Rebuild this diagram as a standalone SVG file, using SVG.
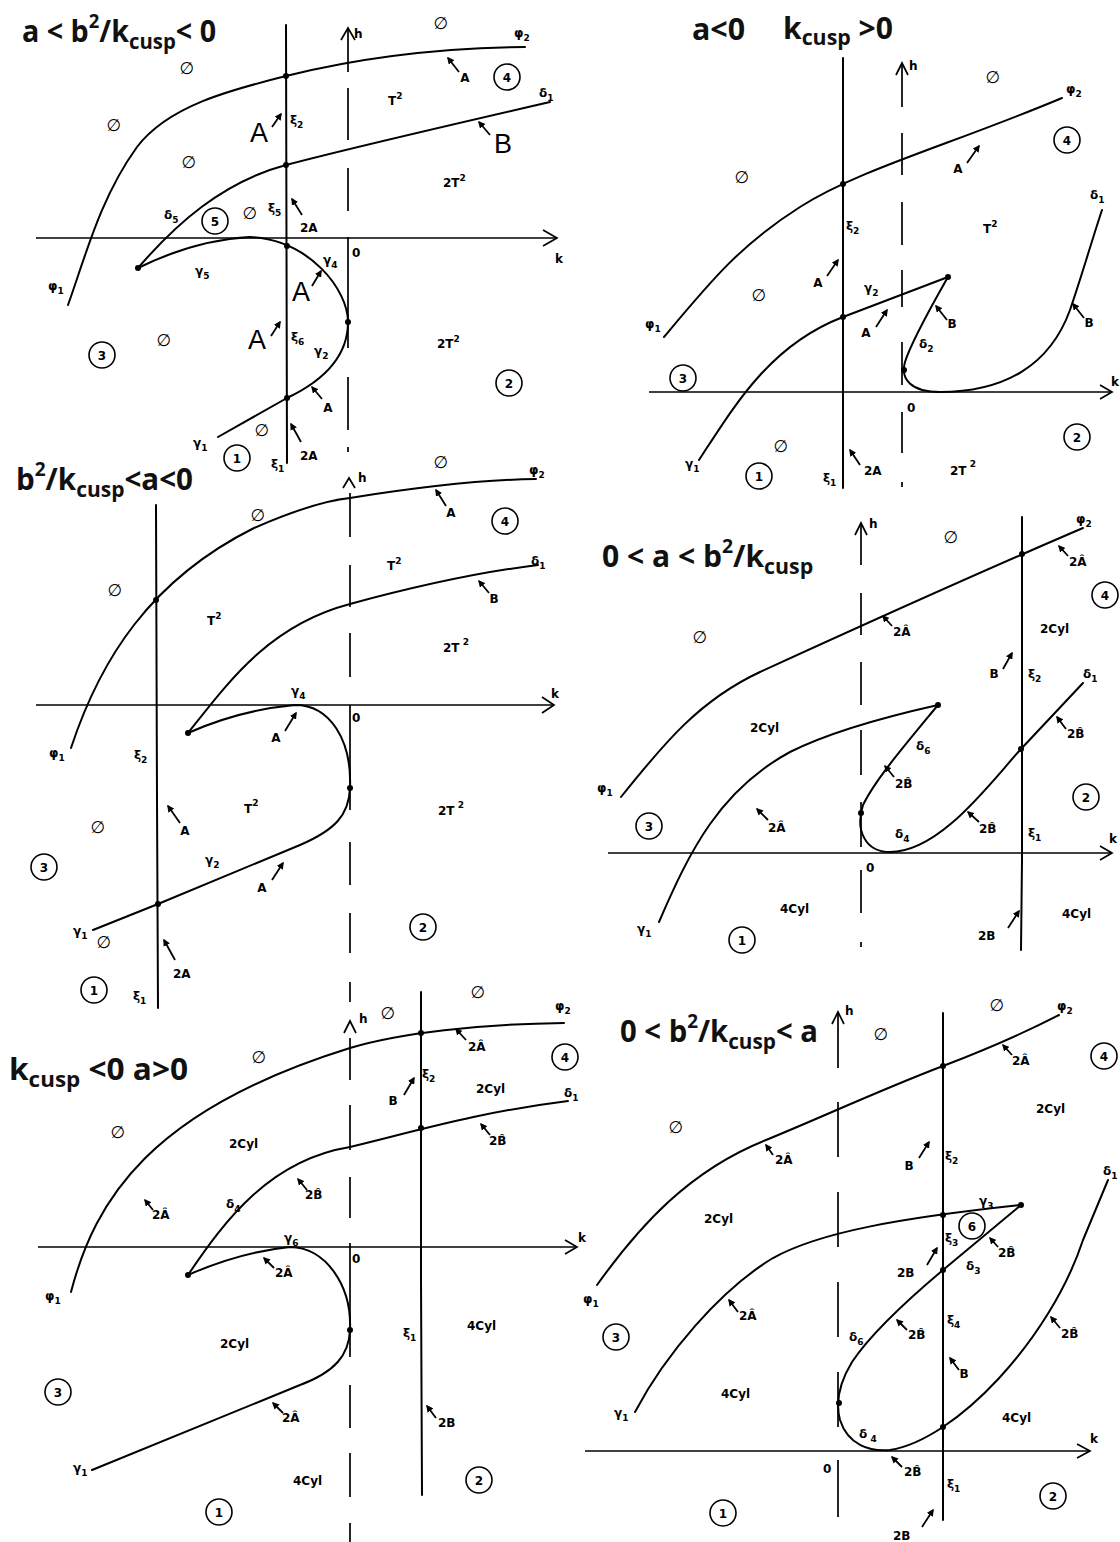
<svg xmlns="http://www.w3.org/2000/svg" width="1120" height="1542" viewBox="0 0 1120 1542">
<defs>
<marker id="ah" viewBox="0 0 10 10" refX="8" refY="5" markerWidth="4" markerHeight="4" orient="auto"><path d="M0,0 L10,5 L0,10 z" fill="#000"/></marker>
<style>
.c{fill:none;stroke:#000;stroke-width:2;stroke-linecap:round;stroke-linejoin:round}
.ax{fill:none;stroke:#000;stroke-width:1.7}
.pa{stroke:#000;stroke-width:1.8;marker-end:url(#ah)}
.l{font-family:"DejaVu Sans",sans-serif;font-weight:bold;font-size:12px;fill:#000}
.m{text-anchor:middle}
.s{font-size:9px}
.e{font-family:"DejaVu Sans",sans-serif;font-size:17px;fill:#000;text-anchor:middle}
.n{fill:none;stroke:#000;stroke-width:1.6}
.nt{font-family:"DejaVu Sans",sans-serif;font-weight:bold;font-size:12px;text-anchor:middle}
.big{font-family:"Liberation Sans",sans-serif;font-size:27px;text-anchor:middle}
.ttl{font-family:"Open Sans",sans-serif;font-weight:bold;font-size:31px;fill:#111}
.d{fill:#000}
</style>
</defs>
<rect width="1120" height="1542" fill="#fff"/>

<!-- ================= PANEL 1 ================= -->
<g id="panel1">
<text class="ttl" transform="translate(22,42) scale(0.925,1)">a &lt; b<tspan font-size="20" dy="-14">2</tspan><tspan dy="14">/k</tspan><tspan font-size="22" dy="7">cusp</tspan><tspan dy="-7">&lt; 0</tspan></text>
<g id="p1-connectors">
<line class="ax" x1="36" y1="238" x2="556" y2="238"/>
<polyline class="ax" points="543,230 557,238 543,246"/>
<path class="ax" d="M348,28V72M348,88V140M348,168V211M348,237V348M348,377V430M348,447V452"/>
<polyline class="ax" points="341,40 348,28 355,40"/>
<line class="c" x1="286" y1="25" x2="287" y2="463"/>
<path class="c" d="M68,305 C85,258 100,198 137,147 C168,106 230,90 286,76 C350,60 430,48 525,47"/>
<path class="c" d="M138,268 C175,225 222,182 286,165 C350,148 450,125 550,102"/>
<path class="c" d="M138,268 Q195,240 250,237 C310,240 348,290 348,322 C348,355 325,380 287,398 L218,437"/>
<circle class="d" cx="286" cy="76" r="3"/><circle class="d" cx="286" cy="165" r="3"/><circle class="d" cx="138" cy="268" r="3"/>
<circle class="d" cx="287" cy="246" r="3"/><circle class="d" cx="348" cy="322" r="3"/><circle class="d" cx="287" cy="398" r="3"/>
<line class="pa" x1="459" y1="72" x2="448" y2="58"/>
<line class="pa" x1="272" y1="127" x2="281" y2="114"/>
<line class="pa" x1="490" y1="135" x2="479" y2="122"/>
<line class="pa" x1="302" y1="215" x2="292" y2="199"/>
<line class="pa" x1="312" y1="286" x2="321" y2="271"/>
<line class="pa" x1="271" y1="336" x2="280" y2="322"/>
<line class="pa" x1="322" y1="399" x2="312" y2="387"/>
<line class="pa" x1="301" y1="442" x2="291" y2="424"/>
</g>
<g id="p1-labels">
<text class="l" x="354" y="38">h</text>
<text class="e" x="441" y="29">∅</text><text class="e" x="187" y="74">∅</text><text class="e" x="114" y="131">∅</text>
<text class="e" x="189" y="168">∅</text><text class="e" x="250" y="219">∅</text><text class="e" x="164" y="346">∅</text><text class="e" x="262" y="436">∅</text>
<text class="l" x="514" y="37">φ<tspan class="s" dy="4">2</tspan></text>
<text class="l m" x="465" y="82">A</text>
<circle class="n" cx="507" cy="77" r="13"/><text class="nt" x="507" y="81.5">4</text>
<text class="l" x="539" y="97">δ<tspan class="s" dy="4">1</tspan></text>
<text class="l" x="388" y="105">T<tspan class="s" dy="-6">2</tspan></text>
<text class="big" x="259" y="142">A</text>
<text class="l" x="290" y="124">ξ<tspan class="s" dy="4">2</tspan></text>
<text class="big" x="503" y="153">B</text>
<text class="l" x="443" y="187">2T<tspan class="s" dy="-6">2</tspan></text>
<text class="l" x="164" y="219">δ<tspan class="s" dy="4">5</tspan></text>
<circle class="n" cx="215" cy="221" r="13"/><text class="nt" x="215" y="225.5">5</text>
<text class="l" x="268" y="212">ξ<tspan class="s" dy="4">5</tspan></text>
<text class="l" x="300" y="232">2A</text>
<text class="l" x="195" y="275">γ<tspan class="s" dy="4">5</tspan></text>
<text class="l" x="48" y="290">φ<tspan class="s" dy="4">1</tspan></text>
<text class="l" x="352" y="257">0</text>
<text class="l" x="555" y="263">k</text>
<text class="l" x="323" y="264">γ<tspan class="s" dy="4">4</tspan></text>
<text class="big" x="301" y="301">A</text>
<text class="big" x="257" y="349">A</text>
<text class="l" x="291" y="341">ξ<tspan class="s" dy="4">6</tspan></text>
<text class="l" x="314" y="355">γ<tspan class="s" dy="4">2</tspan></text>
<text class="l" x="437" y="348">2T<tspan class="s" dy="-6">2</tspan></text>
<circle class="n" cx="102" cy="355" r="13"/><text class="nt" x="102" y="359.5">3</text>
<circle class="n" cx="509" cy="383" r="13"/><text class="nt" x="509" y="387.5">2</text>
<text class="l m" x="328" y="412">A</text>
<text class="l" x="193" y="447">γ<tspan class="s" dy="4">1</tspan></text>
<circle class="n" cx="237" cy="458" r="13"/><text class="nt" x="237" y="462.5">1</text>
<text class="l" x="271" y="468">ξ<tspan class="s" dy="4">1</tspan></text>
<text class="l" x="300" y="460">2A</text>
</g>
</g>

<!-- ================= PANEL 2 ================= -->
<g id="panel2">
<text class="ttl" transform="translate(692,40) scale(0.98,1)">a&lt;0</text>
<text class="ttl" transform="translate(783,39) scale(0.97,1)">k<tspan font-size="22" dy="6">cusp</tspan><tspan dy="-6"> &gt;0</tspan></text>
<g id="p2-connectors">
<line class="ax" x1="649" y1="392" x2="1111" y2="392"/>
<polyline class="ax" points="1100,385 1112,392 1100,399"/>
<path class="ax" d="M902,63V107M902,133V175M902,202V245M902,270V307M902,342V385M902,412V453M902,482V487"/>
<polyline class="ax" points="896,75 902,63 908,75"/>
<line class="c" x1="843" y1="58" x2="843" y2="488"/>
<path class="c" d="M664,337 C710,282 740,245 800,207 C860,169 950,145 1062,98"/>
<path class="c" d="M699,460 C735,405 770,345 843,317 L948,277"/>
<path class="c" d="M948,277 C935,300 912,340 905,362 C900,380 912,392 940,392 C1005,392 1050,365 1070,310 C1082,275 1092,240 1102,210"/>
<circle class="d" cx="843" cy="184" r="3"/><circle class="d" cx="843" cy="317" r="3"/><circle class="d" cx="948" cy="277" r="3"/><circle class="d" cx="904" cy="370" r="3"/>
<line class="pa" x1="967" y1="163" x2="979" y2="146"/>
<line class="pa" x1="827" y1="276" x2="838" y2="260"/>
<line class="pa" x1="876" y1="327" x2="887" y2="310"/>
<line class="pa" x1="947" y1="320" x2="936" y2="306"/>
<line class="pa" x1="1084" y1="318" x2="1073" y2="304"/>
<line class="pa" x1="860" y1="465" x2="850" y2="450"/>
</g>
<g id="p2-labels">
<text class="l" x="909" y="70">h</text>
<text class="e" x="993" y="83">∅</text>
<text class="l" x="1066" y="93">φ<tspan class="s" dy="4">2</tspan></text>
<circle class="n" cx="1067" cy="140" r="13"/><text class="nt" x="1067" y="144.5">4</text>
<text class="l m" x="958" y="173">A</text>
<text class="e" x="742" y="183">∅</text>
<text class="l" x="1090" y="199">δ<tspan class="s" dy="4">1</tspan></text>
<text class="l" x="846" y="230">ξ<tspan class="s" dy="4">2</tspan></text>
<text class="l" x="983" y="233">T<tspan class="s" dy="-6">2</tspan></text>
<text class="l m" x="818" y="287">A</text>
<text class="e" x="759" y="301">∅</text>
<text class="l" x="864" y="292">γ<tspan class="s" dy="4">2</tspan></text>
<text class="l" x="645" y="328">φ<tspan class="s" dy="4">1</tspan></text>
<text class="l m" x="866" y="337">A</text>
<text class="l m" x="952" y="328">B</text>
<text class="l" x="919" y="348">δ<tspan class="s" dy="4">2</tspan></text>
<text class="l m" x="1089" y="327">B</text>
<circle class="n" cx="683" cy="378" r="13"/><text class="nt" x="683" y="382.5">3</text>
<text class="l" x="1111" y="386">k</text>
<text class="l" x="907" y="412">0</text>
<circle class="n" cx="1077" cy="437" r="13"/><text class="nt" x="1077" y="441.5">2</text>
<text class="e" x="781" y="452">∅</text>
<text class="l" x="685" y="468">γ<tspan class="s" dy="4">1</tspan></text>
<circle class="n" cx="759" cy="476" r="13"/><text class="nt" x="759" y="480.5">1</text>
<text class="l" x="823" y="482">ξ<tspan class="s" dy="4">1</tspan></text>
<text class="l" x="864" y="475">2A</text>
<text class="l" x="950" y="475">2T<tspan class="s" dy="-8"> 2</tspan></text>
</g>
</g>

<!-- ================= PANEL 3 ================= -->
<g id="panel3">
<text class="ttl" transform="translate(16,490) scale(0.954,1)">b<tspan font-size="20" dy="-14">2</tspan><tspan dy="14">/k</tspan><tspan font-size="22" dy="7">cusp</tspan><tspan dy="-7">&lt;a&lt;0</tspan></text>
<g id="p3-connectors">
<line class="ax" x1="36" y1="705" x2="553" y2="705"/>
<polyline class="ax" points="542,697 554,705 542,713"/>
<path class="ax" d="M350,493V537M350,565V607M350,633V677M350,705V810M350,842V885M350,913V953M350,982V1002"/>
<polyline class="ax" points="343,488 349,478 355,488"/>
<path class="c" d="M156,505 L157,800 L158,1008"/>
<path class="c" d="M71,748 C100,660 150,580 254,528 C300,508 330,500 350,498 C400,490 470,480 536,479"/>
<path class="c" d="M188,733 C230,680 270,625 350,604 C420,585 480,572 538,565"/>
<path class="c" d="M188,733 Q240,710 295,705 C330,705 352,740 350,788 C349,815 335,830 300,845 L158,904 L93,930"/>
<circle class="d" cx="156" cy="600" r="3"/><circle class="d" cx="188" cy="733" r="3"/><circle class="d" cx="350" cy="788" r="3"/><circle class="d" cx="158" cy="904" r="3"/>
<line class="pa" x1="446" y1="506" x2="436" y2="490"/>
<line class="pa" x1="489" y1="593" x2="479" y2="581"/>
<line class="pa" x1="285" y1="731" x2="296" y2="713"/>
<line class="pa" x1="180" y1="823" x2="168" y2="806"/>
<line class="pa" x1="272" y1="880" x2="283" y2="863"/>
<line class="pa" x1="175" y1="960" x2="164" y2="940"/>
</g>
<g id="p3-labels">
<text class="l" x="358" y="482">h</text>
<text class="e" x="441" y="468">∅</text>
<text class="l" x="529" y="474">φ<tspan class="s" dy="4">2</tspan></text>
<text class="l m" x="451" y="517">A</text>
<circle class="n" cx="505" cy="521" r="13"/><text class="nt" x="505" y="525.5">4</text>
<text class="e" x="258" y="521">∅</text>
<text class="e" x="115" y="596">∅</text>
<text class="l" x="387" y="570">T<tspan class="s" dy="-6">2</tspan></text>
<text class="l" x="531" y="565">δ<tspan class="s" dy="4">1</tspan></text>
<text class="l m" x="494" y="603">B</text>
<text class="l" x="207" y="625">T<tspan class="s" dy="-6">2</tspan></text>
<text class="l" x="443" y="652">2T<tspan class="s" dy="-7"> 2</tspan></text>
<text class="l" x="291" y="695">γ<tspan class="s" dy="4">4</tspan></text>
<text class="l" x="352" y="722">0</text>
<text class="l" x="551" y="698">k</text>
<text class="l" x="49" y="757">φ<tspan class="s" dy="4">1</tspan></text>
<text class="l" x="134" y="759">ξ<tspan class="s" dy="4">2</tspan></text>
<text class="l m" x="276" y="742">A</text>
<text class="l" x="244" y="813">T<tspan class="s" dy="-7">2</tspan></text>
<text class="l" x="438" y="815">2T<tspan class="s" dy="-7"> 2</tspan></text>
<text class="l m" x="185" y="835">A</text>
<text class="e" x="98" y="833">∅</text>
<circle class="n" cx="44" cy="867" r="13"/><text class="nt" x="44" y="871.5">3</text>
<text class="l" x="205" y="864">γ<tspan class="s" dy="4">2</tspan></text>
<text class="l m" x="262" y="892">A</text>
<circle class="n" cx="423" cy="927" r="13"/><text class="nt" x="423" y="931.5">2</text>
<text class="l" x="73" y="935">γ<tspan class="s" dy="4">1</tspan></text>
<text class="e" x="104" y="948">∅</text>
<text class="l" x="173" y="978">2A</text>
<circle class="n" cx="94" cy="990" r="13"/><text class="nt" x="94" y="994.5">1</text>
<text class="l" x="133" y="1000">ξ<tspan class="s" dy="4">1</tspan></text>
</g>
</g>

<!-- ================= PANEL 4 ================= -->
<g id="panel4">
<text class="ttl" transform="translate(602,567) scale(0.97,1)">0 &lt; a &lt; b<tspan font-size="20" dy="-14">2</tspan><tspan dy="14">/k</tspan><tspan font-size="22" dy="7">cusp</tspan></text>
<g id="p4-connectors">
<line class="ax" x1="608" y1="853" x2="1111" y2="853"/>
<polyline class="ax" points="1100,846 1112,853 1100,860"/>
<path class="ax" d="M861,523V565M861,593V635M861,662V705M861,730V775M861,802V847M861,870V913M861,942V947"/>
<polyline class="ax" points="855,535 861,523 867,535"/>
<path class="c" d="M1022,517 L1022,860 L1021,950"/>
<path class="c" d="M621,797 C665,742 700,700 760,672 C830,640 950,585 1083,528"/>
<path class="c" d="M659,922 C690,850 720,790 790,752 C830,732 880,718 938,705"/>
<path class="c" d="M938,705 C905,745 875,780 863,805 C855,830 865,852 890,852 C940,852 990,783 1021,749 L1083,683"/>
<circle class="d" cx="1022" cy="554" r="3"/><circle class="d" cx="938" cy="705" r="3"/><circle class="d" cx="861" cy="813" r="3"/><circle class="d" cx="1021" cy="749" r="3"/>
<line class="pa" x1="1068" y1="556" x2="1059" y2="546"/>
<line class="pa" x1="892" y1="626" x2="883" y2="616"/>
<line class="pa" x1="1003" y1="669" x2="1012" y2="653"/>
<line class="pa" x1="1066" y1="729" x2="1057" y2="717"/>
<line class="pa" x1="894" y1="777" x2="885" y2="766"/>
<line class="pa" x1="768" y1="820" x2="757" y2="809"/>
<line class="pa" x1="979" y1="822" x2="968" y2="812"/>
<line class="pa" x1="1008" y1="928" x2="1019" y2="911"/>
</g>
<g id="p4-labels">
<text class="l" x="869" y="528">h</text>
<text class="e" x="951" y="543">∅</text>
<text class="l" x="1076" y="523">φ<tspan class="s" dy="4">2</tspan></text>
<text class="l" x="1069" y="566">2Â</text>
<circle class="n" cx="1105" cy="595" r="13"/><text class="nt" x="1105" y="599.5">4</text>
<text class="l" x="893" y="636">2Â</text>
<text class="e" x="700" y="643">∅</text>
<text class="l" x="1040" y="633">2Cyl</text>
<text class="l m" x="994" y="678">B</text>
<text class="l" x="1028" y="678">ξ<tspan class="s" dy="4">2</tspan></text>
<text class="l" x="1083" y="678">δ<tspan class="s" dy="4">1</tspan></text>
<text class="l" x="750" y="732">2Cyl</text>
<text class="l" x="916" y="750">δ<tspan class="s" dy="4">6</tspan></text>
<text class="l" x="1067" y="738">2B&#x302;</text>
<text class="l" x="597" y="792">φ<tspan class="s" dy="4">1</tspan></text>
<text class="l" x="895" y="788">2B&#x302;</text>
<circle class="n" cx="1086" cy="797" r="13"/><text class="nt" x="1086" y="801.5">2</text>
<circle class="n" cx="649" cy="826" r="13"/><text class="nt" x="649" y="830.5">3</text>
<text class="l" x="768" y="832">2Â</text>
<text class="l" x="895" y="838">δ<tspan class="s" dy="4">4</tspan></text>
<text class="l" x="979" y="833">2B&#x302;</text>
<text class="l" x="1028" y="837">ξ<tspan class="s" dy="4">1</tspan></text>
<text class="l" x="1109" y="843">k</text>
<text class="l" x="866" y="872">0</text>
<text class="l" x="780" y="913">4Cyl</text>
<text class="l" x="1062" y="918">4Cyl</text>
<text class="l" x="637" y="933">γ<tspan class="s" dy="4">1</tspan></text>
<text class="l" x="978" y="940">2B</text>
<circle class="n" cx="742" cy="940" r="13"/><text class="nt" x="742" y="944.5">1</text>
</g>
</g>

<!-- ================= PANEL 5 ================= -->
<g id="panel5">
<text class="ttl" transform="translate(9,1080) scale(1.02,1)">k<tspan font-size="22" dy="7">cusp</tspan><tspan dy="-7"> &lt;0 a&gt;0</tspan></text>
<g id="p5-connectors">
<line class="ax" x1="38" y1="1247" x2="576" y2="1247"/>
<polyline class="ax" points="565,1240 577,1247 565,1254"/>
<path class="ax" d="M350,1038V1080M350,1105V1150M350,1177V1218M350,1243V1357M350,1385V1428M350,1453V1497M350,1523V1542"/>
<polyline class="ax" points="344,1033 350,1021 356,1033"/>
<path class="c" d="M421,992 L421,1280 L422,1495"/>
<path class="c" d="M71,1292 C95,1200 150,1110 350,1048 C400,1033 480,1024 564,1023"/>
<path class="c" d="M188,1275 C225,1220 270,1160 350,1147 C420,1130 480,1112 568,1101"/>
<path class="c" d="M188,1275 Q240,1252 290,1247 C325,1247 352,1285 350,1330 C349,1355 335,1372 300,1385 L92,1470"/>
<circle class="d" cx="421" cy="1033" r="3"/><circle class="d" cx="421" cy="1128" r="3"/><circle class="d" cx="188" cy="1275" r="3"/><circle class="d" cx="350" cy="1330" r="3"/>
<line class="pa" x1="466" y1="1040" x2="456" y2="1029"/>
<line class="pa" x1="404" y1="1095" x2="414" y2="1078"/>
<line class="pa" x1="490" y1="1135" x2="481" y2="1124"/>
<line class="pa" x1="307" y1="1190" x2="298" y2="1179"/>
<line class="pa" x1="153" y1="1210" x2="145" y2="1200"/>
<line class="pa" x1="274" y1="1268" x2="264" y2="1258"/>
<line class="pa" x1="283" y1="1413" x2="273" y2="1403"/>
<line class="pa" x1="436" y1="1418" x2="427" y2="1406"/>
</g>
<g id="p5-labels">
<text class="e" x="478" y="998">∅</text>
<text class="e" x="388" y="1019">∅</text>
<text class="l" x="359" y="1023">h</text>
<text class="l" x="555" y="1010">φ<tspan class="s" dy="4">2</tspan></text>
<text class="l" x="468" y="1051">2Â</text>
<circle class="n" cx="565" cy="1057" r="13"/><text class="nt" x="565" y="1061.5">4</text>
<text class="e" x="259" y="1063">∅</text>
<text class="l" x="422" y="1078">ξ<tspan class="s" dy="4">2</tspan></text>
<text class="l m" x="393" y="1105">B</text>
<text class="l" x="476" y="1093">2Cyl</text>
<text class="l" x="564" y="1097">δ<tspan class="s" dy="4">1</tspan></text>
<text class="e" x="118" y="1138">∅</text>
<text class="l" x="229" y="1148">2Cyl</text>
<text class="l" x="489" y="1145">2B&#x302;</text>
<text class="l" x="305" y="1199">2B&#x302;</text>
<text class="l" x="152" y="1219">2Â</text>
<text class="l" x="226" y="1208">δ<tspan class="s" dy="4">4</tspan></text>
<text class="l" x="284" y="1242">γ<tspan class="s" dy="4">6</tspan></text>
<text class="l" x="578" y="1242">k</text>
<text class="l" x="352" y="1263">0</text>
<text class="l" x="275" y="1277">2Â</text>
<text class="l" x="45" y="1300">φ<tspan class="s" dy="4">1</tspan></text>
<text class="l" x="403" y="1337">ξ<tspan class="s" dy="4">1</tspan></text>
<text class="l" x="467" y="1330">4Cyl</text>
<text class="l" x="220" y="1348">2Cyl</text>
<circle class="n" cx="58" cy="1392" r="13"/><text class="nt" x="58" y="1396.5">3</text>
<text class="l" x="282" y="1422">2Â</text>
<text class="l" x="438" y="1427">2B</text>
<text class="l" x="73" y="1472">γ<tspan class="s" dy="4">1</tspan></text>
<text class="l" x="293" y="1485">4Cyl</text>
<circle class="n" cx="479" cy="1480" r="13"/><text class="nt" x="479" y="1484.5">2</text>
<circle class="n" cx="219" cy="1512" r="13"/><text class="nt" x="219" y="1516.5">1</text>
</g>
</g>

<!-- ================= PANEL 6 ================= -->
<g id="panel6">
<text class="ttl" transform="translate(620,1042) scale(0.944,1)">0 &lt; b<tspan font-size="20" dy="-14">2</tspan><tspan dy="14">/k</tspan><tspan font-size="22" dy="7">cusp</tspan><tspan dy="-7">&lt; a</tspan></text>
<g id="p6-connectors">
<line class="ax" x1="585" y1="1451" x2="1089" y2="1451"/>
<polyline class="ax" points="1077,1444 1090,1451 1077,1458"/>
<path class="ax" d="M838,1012V1068M838,1102V1157M838,1192V1247M838,1282V1337M838,1372V1427M838,1460V1517"/>
<polyline class="ax" points="832,1024 838,1012 844,1024"/>
<line class="c" x1="943" y1="1013" x2="943" y2="1520"/>
<path class="c" d="M597,1285 C640,1225 690,1170 766,1140 C820,1118 880,1090 943,1066 C990,1048 1030,1030 1059,1015"/>
<path class="c" d="M635,1412 C665,1355 720,1290 773,1258 C820,1232 900,1218 1021,1205"/>
<path class="c" d="M1021,1205 L943,1270 C905,1302 870,1335 852,1362 C838,1385 836,1405 840,1420 C848,1445 870,1452 890,1450 C955,1440 1050,1340 1083,1240 L1108,1180"/>
<circle class="d" cx="943" cy="1066" r="3"/><circle class="d" cx="943" cy="1215" r="3"/><circle class="d" cx="1021" cy="1205" r="3"/>
<circle class="d" cx="943" cy="1270" r="3"/><circle class="d" cx="839" cy="1403" r="3"/><circle class="d" cx="943" cy="1427" r="3"/>
<line class="pa" x1="1012" y1="1055" x2="1003" y2="1045"/>
<line class="pa" x1="773" y1="1155" x2="766" y2="1145"/>
<line class="pa" x1="919" y1="1158" x2="929" y2="1142"/>
<line class="pa" x1="998" y1="1247" x2="990" y2="1238"/>
<line class="pa" x1="927" y1="1265" x2="937" y2="1248"/>
<line class="pa" x1="738" y1="1312" x2="729" y2="1300"/>
<line class="pa" x1="907" y1="1330" x2="897" y2="1320"/>
<line class="pa" x1="1060" y1="1328" x2="1051" y2="1317"/>
<line class="pa" x1="959" y1="1370" x2="950" y2="1358"/>
<line class="pa" x1="902" y1="1467" x2="892" y2="1457"/>
<line class="pa" x1="922" y1="1527" x2="933" y2="1510"/>
</g>
<g id="p6-labels">
<text class="l" x="845" y="1015">h</text>
<text class="e" x="997" y="1011">∅</text>
<text class="l" x="1057" y="1010">φ<tspan class="s" dy="4">2</tspan></text>
<text class="e" x="881" y="1040">∅</text>
<text class="l" x="1012" y="1065">2Â</text>
<circle class="n" cx="1104" cy="1056" r="13"/><text class="nt" x="1104" y="1060.5">4</text>
<text class="e" x="676" y="1133">∅</text>
<text class="l" x="1036" y="1113">2Cyl</text>
<text class="l" x="775" y="1164">2Â</text>
<text class="l m" x="909" y="1170">B</text>
<text class="l" x="945" y="1160">ξ<tspan class="s" dy="4">2</tspan></text>
<text class="l" x="1103" y="1175">δ<tspan class="s" dy="4">1</tspan></text>
<text class="l" x="979" y="1205">γ<tspan class="s" dy="4">3</tspan></text>
<text class="l" x="704" y="1223">2Cyl</text>
<circle class="n" cx="972" cy="1226" r="13"/><text class="nt" x="972" y="1230.5">6</text>
<text class="l" x="945" y="1242">ξ<tspan class="s" dy="4">3</tspan></text>
<text class="l" x="998" y="1257">2B&#x302;</text>
<text class="l" x="897" y="1277">2B</text>
<text class="l" x="966" y="1270">δ<tspan class="s" dy="4">3</tspan></text>
<text class="l" x="583" y="1303">φ<tspan class="s" dy="4">1</tspan></text>
<text class="l" x="739" y="1320">2Â</text>
<text class="l" x="947" y="1324">ξ<tspan class="s" dy="4">4</tspan></text>
<text class="l" x="908" y="1339">2B&#x302;</text>
<text class="l" x="1061" y="1338">2B&#x302;</text>
<text class="l" x="849" y="1341">δ<tspan class="s" dy="4">6</tspan></text>
<circle class="n" cx="616" cy="1337" r="13"/><text class="nt" x="616" y="1341.5">3</text>
<text class="l m" x="964" y="1378">B</text>
<text class="l" x="721" y="1398">4Cyl</text>
<text class="l" x="614" y="1417">γ<tspan class="s" dy="4">1</tspan></text>
<text class="l" x="1002" y="1422">4Cyl</text>
<text class="l" x="859" y="1438">δ<tspan class="s" dy="4"> 4</tspan></text>
<text class="l" x="1090" y="1443">k</text>
<text class="l" x="823" y="1473">0</text>
<text class="l" x="904" y="1476">2B&#x302;</text>
<text class="l" x="947" y="1488">ξ<tspan class="s" dy="4">1</tspan></text>
<circle class="n" cx="1053" cy="1496" r="13"/><text class="nt" x="1053" y="1500.5">2</text>
<circle class="n" cx="723" cy="1513" r="13"/><text class="nt" x="723" y="1517.5">1</text>
<text class="l" x="893" y="1540">2B</text>
</g>
</g>
</svg>
